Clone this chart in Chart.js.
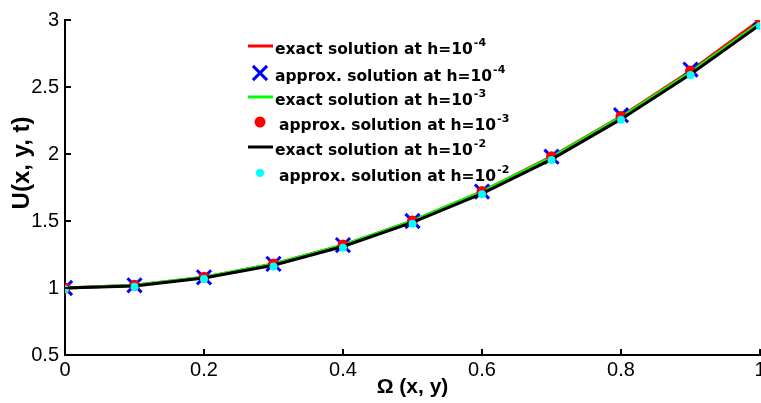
<!DOCTYPE html>
<html>
<head>
<meta charset="utf-8">
<script src="https://cdn.jsdelivr.net/npm/chart.js@4"></script>
<style>
  html, body { margin: 0; padding: 0; background: #fff; overflow: hidden; }
  #wrap { width: 773px; height: 403px; position: relative; }
</style>
</head>
<body>
<div id="wrap"><canvas id="chart"></canvas></div>
<script>
// grid points along Omega (x, y)
const xValues = [0, 0.1, 0.2, 0.3, 0.4, 0.5, 0.6, 0.7, 0.8, 0.9, 1];

// values
const exactH4  = [1, 1.02, 1.08, 1.18, 1.32, 1.50, 1.72, 1.98, 2.28, 2.62, 3.00];
const approxH4 = [1, 1.02, 1.08, 1.18, 1.32, 1.50, 1.72, 1.98, 2.29, 2.63, 3.01];
const exactH3  = [1, 1.02, 1.08, 1.18, 1.32, 1.50, 1.72, 1.975, 2.275, 2.61, 2.98];
const approxH3 = [1, 1.02, 1.08, 1.18, 1.32, 1.50, 1.72, 1.98, 2.28, 2.62, 3.00];
const exactH2  = [1, 1.015, 1.075, 1.17, 1.31, 1.49, 1.705, 1.96, 2.26, 2.595, 2.965];
const approxH2 = [0.99, 1.01, 1.067, 1.16, 1.30, 1.48, 1.70, 1.955, 2.255, 2.59, 2.955];

const xTicks = [0, 0.2, 0.4, 0.6, 0.8, 1];
const yTicks = [0.5, 1, 1.5, 2, 2.5, 3];

const legendLabels = [
    ['exact solution at h=10', '-4'],
    ['approx. solution at h=10', '-4'],
    ['exact solution at h=10', '-3'],
    ['approx. solution at h=10', '-3'],
    ['exact solution at h=10', '-2'],
    ['approx. solution at h=10', '-2']
];

const FONT = "'Liberation Sans', Arial, sans-serif";
const LEGEND_FONT = "'DejaVu Sans', Verdana, sans-serif";

function pts(ys) {
    return xValues.map((x, i) => ({ x, y: ys[i] }));
}

function lineSet(ys, color, order) {
    return {
        data: pts(ys),
        borderColor: color,
        borderWidth: 3,
        pointRadius: 0,
        tension: 0,
        fill: false,
        showLine: true,
        order
    };
}

function markerSet(ys, color, style, radius, width, order) {
    return {
        data: pts(ys),
        showLine: false,
        pointStyle: style,
        pointRadius: radius,
        pointHoverRadius: radius,
        borderColor: color,
        backgroundColor: color,
        pointBorderWidth: width,
        order
    };
}

// matlab-like inward tick marks
const inwardTicks = {
    id: 'inwardTicks',
    afterDraw(chart) {
        const { ctx, chartArea, scales } = chart;
        ctx.save();
        ctx.strokeStyle = '#000';
        ctx.lineWidth = 2;
        xTicks.forEach(v => {
            const px = Math.round(scales.x.getPixelForValue(v));
            ctx.beginPath();
            ctx.moveTo(px, chartArea.bottom);
            ctx.lineTo(px, chartArea.bottom - 6);
            ctx.stroke();
        });
        yTicks.forEach(v => {
            const py = Math.round(scales.y.getPixelForValue(v));
            ctx.beginPath();
            ctx.moveTo(chartArea.left, py);
            ctx.lineTo(chartArea.left + 6, py);
            ctx.stroke();
        });
        ctx.restore();
    }
};

// y title sits a bit above the middle in the original
const yTitle = {
    id: 'yTitle',
    afterDraw(chart) {
        const { ctx } = chart;
        ctx.save();
        ctx.translate(22, 163);
        ctx.rotate(-Math.PI / 2);
        ctx.font = 'bold 24px ' + FONT;
        ctx.fillStyle = '#000';
        ctx.textAlign = 'center';
        ctx.textBaseline = 'middle';
        ctx.fillText('U(x, y, t)', 0, 0);
        ctx.restore();
    }
};

// legend inside the plot, no box
const innerLegend = {
    id: 'innerLegend',
    afterDraw(chart) {
        const { ctx } = chart;
        const rows = [46, 73, 97, 122, 147, 173];
        const textX = [275, 275, 275, 279, 275, 279];
        ctx.save();
        chart.data.datasets.forEach((ds, i) => {
            const y = rows[i];
            if (ds.showLine) {
                ctx.strokeStyle = ds.borderColor;
                ctx.lineWidth = 3;
                ctx.beginPath();
                ctx.moveTo(248, y);
                ctx.lineTo(273, y);
                ctx.stroke();
            } else {
                ctx.fillStyle = ds.backgroundColor;
                ctx.strokeStyle = ds.borderColor;
                ctx.lineWidth = ds.pointBorderWidth;
                ctx.beginPath();
                if (ds.pointStyle === 'crossRot') {
                    const d = ds.pointRadius * Math.SQRT1_2;
                    ctx.moveTo(260 - d, y - d); ctx.lineTo(260 + d, y + d);
                    ctx.moveTo(260 - d, y + d); ctx.lineTo(260 + d, y - d);
                    ctx.stroke();
                } else {
                    ctx.arc(260, y, ds.pointRadius, 0, Math.PI * 2);
                    ctx.fill();
                }
            }
            const [base, exp] = legendLabels[i];
            ctx.fillStyle = '#000';
            ctx.textBaseline = 'middle';
            ctx.textAlign = 'left';
            ctx.font = 'bold 15.5px ' + LEGEND_FONT;
            ctx.fillText(base, textX[i], y + 4);
            const w = ctx.measureText(base).width;
            ctx.font = 'bold 11px ' + LEGEND_FONT;
            ctx.fillText(exp, textX[i] + w + 1, y - 3);
        });
        ctx.restore();
    }
};

new Chart(document.getElementById('chart'), {
    type: 'scatter',
    data: {
        datasets: [
            lineSet(exactH4, '#ff0000', 6),
            markerSet(approxH4, '#0000ff', 'crossRot', 10, 3, 5),
            lineSet(exactH3, '#00ff00', 4),
            markerSet(approxH3, '#ff0000', 'circle', 5.5, 0, 3),
            lineSet(exactH2, '#000000', 2),
            markerSet(approxH2, '#00ffff', 'circle', 4, 0, 1)
        ]
    },
    options: {
        responsive: true,
        maintainAspectRatio: false,
        animation: false,
        layout: { padding: { top: 20, right: 1, bottom: 0, left: 0 } },
        plugins: {
            legend: { display: false },
            tooltip: { enabled: false }
        },
        scales: {
            x: {
                type: 'linear',
                min: 0,
                max: 1,
                afterBuildTicks: s => { s.ticks = xTicks.map(v => ({ value: v })); },
                afterFit: s => { s.height = 48; s.paddingLeft = 0; s.paddingRight = 0; },
                grid: { display: false, drawTicks: false },
                border: { display: true, color: '#000', width: 2 },
                ticks: {
                    color: '#000',
                    padding: 3,
                    maxRotation: 0,
                    font: { family: FONT, size: 20 },
                    callback: v => String(v)
                },
                title: {
                    display: true,
                    text: 'Ω (x, y)',
                    color: '#000',
                    font: { family: FONT, size: 21, weight: 'bold' },
                    padding: { top: 0, bottom: 3 }
                }
            },
            y: {
                type: 'linear',
                min: 0.5,
                max: 3,
                afterBuildTicks: s => { s.ticks = yTicks.map(v => ({ value: v })); },
                afterFit: s => { s.width = 65; s.paddingTop = 0; s.paddingBottom = 0; },
                grid: { display: false, drawTicks: false },
                border: { display: true, color: '#000', width: 2 },
                ticks: {
                    color: '#000',
                    padding: 6,
                    font: { family: FONT, size: 20 },
                    callback: v => String(v)
                }
            }
        }
    },
    plugins: [inwardTicks, innerLegend, yTitle]
});
</script>
</body>
</html>
